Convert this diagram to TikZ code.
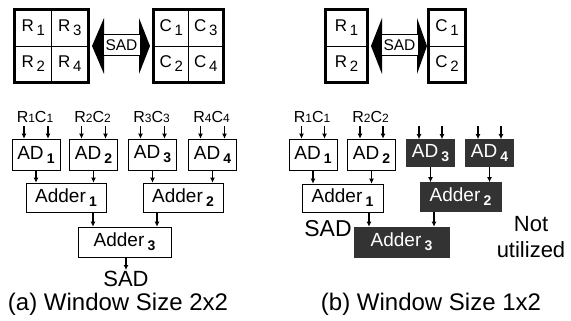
\documentclass[tikz,border=0pt]{standalone}
\usepackage{fontspec}
\setmainfont{Liberation Sans}
\usetikzlibrary{arrows.meta}
\definecolor{idlegray}{HTML}{333333}
\newcommand\fsz[1]{\fontsize{#1}{#1}\selectfont}
\newcommand\gridsub[1]{\,\raisebox{-4pt}{\fsz{15}#1}}
\newcommand\lowsub[1]{\,\raisebox{-4pt}{\fsz{14}\bfseries #1}}
\newcommand\insub[1]{{\fsz{12}#1}}

\begin{document}
\begin{tikzpicture}[x=1pt,y=-1pt,>={Latex[length=5pt,width=5pt]},
  cell/.style={draw,line width=.6pt,inner sep=0pt,minimum height=36pt,font=\fsz{17}},
  unit/.style={draw,line width=.7pt,inner sep=0pt,minimum width=48pt,minimum height=31pt,font=\fsz{19}},
  idle/.style={fill=idlegray,draw=idlegray,text=white},
  sadbox/.style={draw,fill=white,line width=.6pt,inner sep=0pt,minimum width=37pt,minimum height=21pt,font=\fsz{15.5}},
  flow/.style={->,line width=1.2pt}]
  \useasboundingbox (0,0) rectangle (571,321);

  % (a) window 2x2
  \node[cell,minimum width=36.5pt] (r1) at (33.25,28) {R\gridsub{1}};
  \node[cell,minimum width=36.5pt] (r3) at (69.75,28) {R\gridsub{3}};
  \node[cell,minimum width=36.5pt] (r2) at (33.25,64) {R\gridsub{2}};
  \node[cell,minimum width=36.5pt] (r4) at (69.75,64) {R\gridsub{4}};
  \draw[line width=2.5pt] (r1.north west) rectangle (r4.south east);

  \fill (92,46) -- (104,18) -- (104,74) -- cycle;
  \fill (150,46) -- (139,18) -- (139,74) -- cycle;
  \node[sadbox] (sadA) at (121.5,45) {SAD};

  \node[cell,minimum width=34.5pt] (c1) at (171.25,28) {C\gridsub{1}};
  \node[cell,minimum width=34.5pt] (c3) at (205.75,28) {C\gridsub{3}};
  \node[cell,minimum width=34.5pt] (c2) at (171.25,64) {C\gridsub{2}};
  \node[cell,minimum width=34.5pt] (c4) at (205.75,64) {C\gridsub{4}};
  \draw[line width=2.5pt] (c1.north west) rectangle (c4.south east);

  \foreach \i/\x in {1/36,2/93.5,3/152.5,4/212.5} {
    \node[unit] (ad\i) at (\x,154.5) {AD\lowsub{\i}};
    \node[font=\fsz{16}] (in\i) at (\x-1,117) {R\insub{\i}C\insub{\i}};
    \draw[flow] ([xshift=-12pt]ad\i.north |- in\i.south) -- ([xshift=-12pt]ad\i.north);
    \draw[flow] ([xshift=12pt]ad\i.north |- in\i.south) -- ([xshift=12pt]ad\i.north);
  }

  \node[unit,minimum width=80pt,minimum height=29pt] (add1) at (66,197.5) {Adder\lowsub{1}};
  \node[unit,minimum width=80pt,minimum height=29pt] (add2) at (183,197.5) {Adder\lowsub{2}};
  \node[unit,minimum width=93pt,minimum height=30pt] (add3) at (124.5,242) {Adder\lowsub{3}};
  \foreach \a/\b in {1/1,2/1,3/2,4/2}
    \draw[flow] (ad\a.south) -- (ad\a.south |- add\b.north);
  \draw[flow] ([xshift=27pt]add1.south) -- ([xshift=27pt]add1.south |- add3.north);
  \draw[flow] ([xshift=-26pt]add2.south) -- ([xshift=-26pt]add2.south |- add3.north);

  \node[font=\fsz{22},inner sep=.5pt] (sumA) at (126,278.5) {SAD};
  \draw[flow] (add3.south -| sumA) -- (sumA.north);
  \node[font=\fsz{24},inner sep=1pt] (capA) at (118,304) {(a) Window Size 2x2};

  % (b) window 1x2
  \node[cell,minimum width=41pt] (rb1) at (346.5,28) {R\gridsub{1}};
  \node[cell,minimum width=41pt] (rb2) at (346.5,64) {R\gridsub{2}};
  \draw[line width=2.5pt] (rb1.north west) rectangle (rb2.south east);

  \fill (371,46) -- (382,18) -- (382,74) -- cycle;
  \fill (427,46) -- (417,18) -- (417,74) -- cycle;
  \node[sadbox] (sadB) at (399.5,45) {SAD};

  \node[cell,minimum width=36pt] (cb1) at (447,28) {C\gridsub{1}};
  \node[cell,minimum width=36pt] (cb2) at (447,64) {C\gridsub{2}};
  \draw[line width=2.5pt] (cb1.north west) rectangle (cb2.south east);

  \foreach \i/\x in {1/313,2/371.5} {
    \node[unit] (bd\i) at (\x,154.5) {AD\lowsub{\i}};
    \node[font=\fsz{16}] (bin\i) at (\x-1,117) {R\insub{\i}C\insub{\i}};
    \draw[flow] ([xshift=-11.5pt]bd\i.north |- bin\i.south) -- ([xshift=-11.5pt]bd\i.north);
    \draw[flow] ([xshift=11.5pt]bd\i.north |- bin\i.south) -- ([xshift=11.5pt]bd\i.north);
  }
  \foreach \i/\x in {3/430.5,4/489.5} {
    \node[unit,idle,minimum height=27pt] (bd\i) at (\x,153) {AD\lowsub{\i}};
    \coordinate (btop\i) at (\x,126);
    \draw[flow] ([xshift=-11.5pt]bd\i.north |- btop\i) -- ([xshift=-11.5pt]bd\i.north);
    \draw[flow] ([xshift=11.5pt]bd\i.north |- btop\i) -- ([xshift=11.5pt]bd\i.north);
  }

  \node[unit,minimum width=81pt,minimum height=28pt] (badd1) at (342.5,198) {Adder\lowsub{1}};
  \node[unit,idle,minimum width=81pt,minimum height=29pt] (badd2) at (460.5,197) {Adder\lowsub{2}};
  \node[unit,idle,minimum width=95pt,minimum height=30pt] (badd3) at (401.5,242) {Adder\lowsub{3}};
  \foreach \a/\b in {1/1,2/1,3/2,4/2}
    \draw[flow] (bd\a.south) -- (bd\a.south |- badd\b.north);
  \draw[flow] ([xshift=26.5pt]badd1.south) -- ([xshift=26.5pt]badd1.south |- badd3.north);
  \draw[flow] ([xshift=-26.5pt]badd2.south) -- ([xshift=-26.5pt]badd2.south |- badd3.north);

  \node[font=\fsz{23},inner sep=1pt] (sumB) at (328,229) {SAD};
  \node[font=\fontsize{22}{26}\selectfont,align=center] (note) at (531,237) {Not\\utilized};
  \node[font=\fsz{24},inner sep=1pt] (capB) at (431,304) {(b) Window Size 1x2};
\end{tikzpicture}
\end{document}
